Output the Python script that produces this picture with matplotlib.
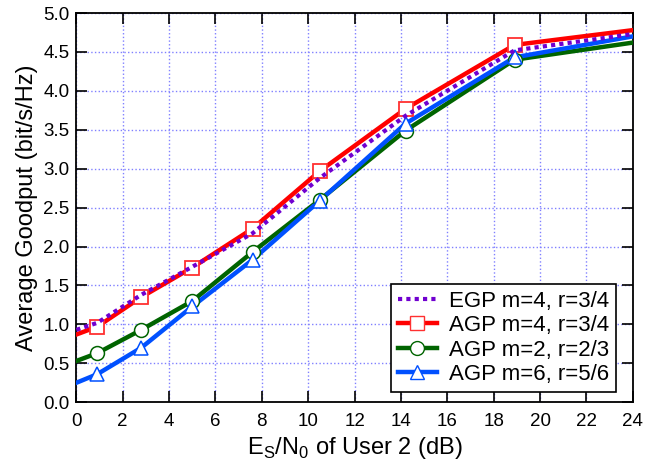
import numpy as np
from matplotlib import pyplot as plt
from matplotlib.lines import Line2D

plt.rcParams['font.family'] = ['Liberation Sans', 'DejaVu Sans']
plt.rcParams['mathtext.fontset'] = 'custom'
plt.rcParams['mathtext.rm'] = 'Liberation Sans'

# data
snr = [0, 0.9, 2.8, 5.0, 7.6, 10.5, 14.2, 18.9, 24]
egp_m4 = [0.93, 1.02, 1.38, 1.74, 2.17, 2.88, 3.68, 4.52, 4.73]
agp_m4 = [0.87, 0.97, 1.35, 1.73, 2.23, 2.97, 3.77, 4.59, 4.78]
agp_m2 = [0.53, 0.63, 0.93, 1.30, 1.93, 2.60, 3.49, 4.40, 4.62]
agp_m6 = [0.25, 0.36, 0.70, 1.23, 1.83, 2.59, 3.58, 4.43, 4.70]

xticks = np.arange(0, 25, 2)
yticks = np.arange(0, 5.01, 0.5)
labels = ['EGP m=4, r=3/4', 'AGP m=4, r=3/4', 'AGP m=2, r=2/3', 'AGP m=6, r=5/6']

fig, ax = plt.subplots(figsize=(6.64, 4.65), dpi=100)
fig.subplots_adjust(left=0.115, right=0.953, top=0.972, bottom=0.135)

ax.plot(snr, egp_m4, color='#7000d0', lw=3, ls=(0, (1, 1)), zorder=5)
ax.plot(snr, agp_m4, color='#ff0000', lw=3.2, zorder=3)
ax.plot(snr[1:-1], agp_m4[1:-1], ls='none', marker='s', ms=10, mfc='white',
        mec='#ff3030', mew=1.3, zorder=4)
ax.plot(snr, agp_m2, color='#006400', lw=3.2, zorder=3)
ax.plot(snr[1:-1], agp_m2[1:-1], ls='none', marker='o', ms=10, mfc='white',
        mec='#006400', mew=1.1, zorder=4)
ax.plot(snr, agp_m6, color='#0050ff', lw=3.2, zorder=3)
ax.plot(snr[1:-1], agp_m6[1:-1], ls='none', marker='^', ms=10, mfc='white',
        mec='#0050ff', mew=1.1, zorder=4)

# legend proxies
handles = [
    Line2D([], [], color='#7000d0', lw=3, ls=(0, (1, 1))),
    Line2D([], [], color='#ff0000', lw=3.2, marker='s', ms=10, mfc='white', mec='#ff3030'),
    Line2D([], [], color='#006400', lw=3.2, marker='o', ms=10, mfc='white', mec='#006400'),
    Line2D([], [], color='#0050ff', lw=3.2, marker='^', ms=10, mfc='white', mec='#0050ff'),
]
leg = ax.legend(handles, labels, loc='lower right', bbox_to_anchor=(0.9695, 0.0275),
                borderaxespad=0, fontsize=16, fancybox=False,
                edgecolor='black', framealpha=1, borderpad=0.3, labelspacing=0.15,
                handlelength=1.75, handletextpad=0.55)
leg.get_frame().set_linewidth(1.2)
leg.set_zorder(10)

ax.set_xlim(0, 24)
ax.set_ylim(0, 5)
ax.set_xticks(xticks)
ax.set_yticks(yticks)
ax.set_yticklabels([f'{v:.1f}' for v in yticks])
ax.tick_params(direction='in', length=8, width=1.2, labelsize=13.5, top=True, right=True)
ax.tick_params(axis='x', pad=8)
ax.tick_params(axis='y', pad=5)
for s in ax.spines.values():
    s.set_linewidth(1.3)
ax.grid(True, color='#8080ff', ls=':', lw=1)

ax.set_xlabel(r'E$_\mathrm{S}$/N$_\mathrm{0}$ of User 2 (dB)', fontsize=17, labelpad=3)
ax.set_ylabel('Average Goodput (bit/s/Hz)', fontsize=17, labelpad=4)

plt.savefig('out.png', dpi=100)
plt.close()
